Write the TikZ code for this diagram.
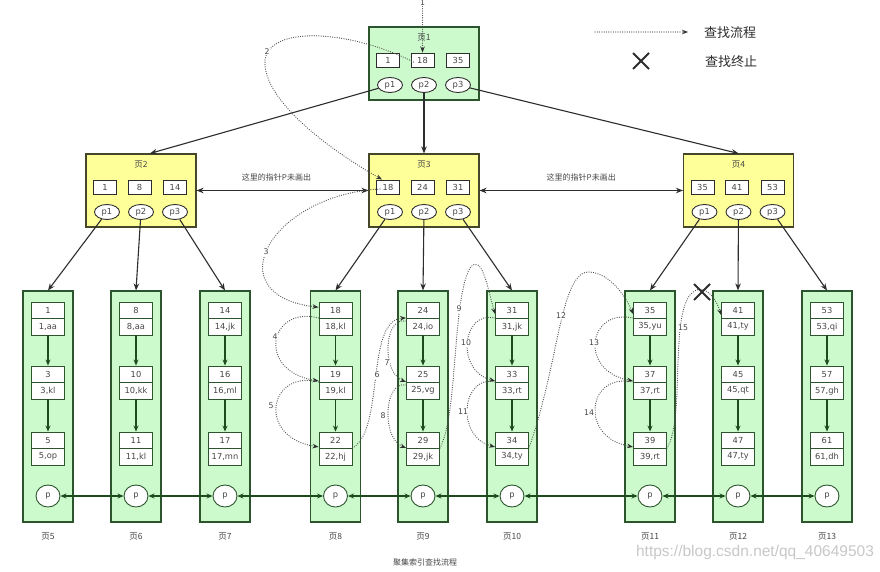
\documentclass[tikz,border=0pt]{standalone}
\usepackage{fontspec}
\setmainfont{DejaVu Sans}
\newfontfamily\cjk{Noto Sans CJK SC}
\newfontfamily\wmfont{Liberation Sans}
\usetikzlibrary{arrows.meta,calc,shapes.geometric}
\definecolor{gfill}{RGB}{204,250,204}
\definecolor{gdraw}{RGB}{45,85,45}
\definecolor{yfill}{RGB}{255,255,153}
\definecolor{ydraw}{RGB}{70,70,40}
\definecolor{garr}{RGB}{30,75,30}
\definecolor{dark}{RGB}{45,45,45}
\definecolor{txt}{RGB}{70,70,70}
\definecolor{flowc}{RGB}{80,80,80}
\definecolor{wmc}{RGB}{200,200,200}

\tikzset{
  leaf/.style={draw=gdraw, fill=gfill, line width=1.1pt, minimum width=50pt, minimum height=231pt, inner sep=0pt},
  ipgG/.style={draw=gdraw, fill=gfill, line width=1.1pt, minimum width=110pt, minimum height=73pt, inner sep=0pt},
  ipgY/.style={draw=ydraw, fill=yfill, line width=1.1pt, minimum width=110pt, minimum height=73pt, inner sep=0pt},
  cellk/.style={draw=gdraw, fill=white, line width=0.9pt, minimum width=33pt, minimum height=16.5pt, inner sep=0pt, font=\fontsize{8.3}{9}\selectfont, text=txt},
  ikey/.style={draw=dark, fill=white, line width=0.9pt, minimum width=23pt, minimum height=14pt, inner sep=0pt, font=\fontsize{8.3}{9}\selectfont, text=txt},
  iell/.style={ellipse, draw=dark, fill=white, line width=0.9pt, minimum width=25pt, minimum height=15pt, inner sep=0pt, font=\fontsize{8.3}{9}\selectfont, text=txt},
  pcirc/.style={ellipse, draw=gdraw, fill=white, line width=0.9pt, minimum width=24pt, minimum height=22pt, inner sep=0pt, font=\fontsize{8.3}{9}\selectfont, text=txt},
  pglbl/.style={font=\cjk\fontsize{8.5}{9}\selectfont, text=txt, inner sep=1pt},
  cjklbl/.style={font=\cjk\fontsize{8}{9}\selectfont, text=txt, inner sep=1pt},
  legtxt/.style={font=\cjk\fontsize{13}{14}\selectfont, text=dark, inner sep=1pt},
  garrow/.style={draw=garr, line width=1.1pt, -{Stealth[length=6pt,width=5pt]}},
  gdbl/.style={draw=garr, line width=1.1pt, {Stealth[length=6pt,width=5pt]}-{Stealth[length=6pt,width=5pt]}},
  bline/.style={draw=dark, line width=1.1pt, -{Stealth[length=7pt,width=5.5pt]}},
  bdbl/.style={draw=dark, line width=1.1pt, {Stealth[length=7pt,width=5.5pt]}-{Stealth[length=7pt,width=5.5pt]}},
  flow/.style={draw=flowc, line width=1.25pt, line cap=round, dash pattern=on 0pt off 2.3pt, -{Stealth[length=6pt,width=4.5pt,color=dark]}},
  flowlbl/.style={font=\fontsize{7.8}{8}\selectfont, text=txt, fill=white, inner sep=0.6pt},
  xmark/.style={draw=dark, line width=2pt},
}

\newcommand\leafpg[8]{%
  \node[leaf] (pg#1) at (#2,406.5) {};
  \node[cellk] (k#3) at (#2,310.25) {#3};
  \node[cellk] (v#3) at (#2,326.75) {#4};
  \node[cellk] (k#5) at (#2,374.25) {#5};
  \node[cellk] (v#5) at (#2,390.75) {#6};
  \node[cellk] (k#7) at (#2,440.25) {#7};
  \node[cellk] (v#7) at (#2,456.75) {#8};
  \draw[garrow] (v#3) -- (k#5);
  \draw[garrow] (v#5) -- (k#7);
  \node[pcirc] (p#1) at (#2,496) {p};
  \node[pglbl] (lb#1) at (#2,537) {页#1};
}

\newcommand\inpg[7]{%
  \node[#4] (pg#1) at (#2,#3) {};
  \node[pglbl] (lb#1) at (#2,#3-26) {页#1};
  \node[ikey] (n#1a) at (#2-36,#3-3.5) {#5};
  \node[ikey] (n#1b) at (#2-1.5,#3-3.5) {#6};
  \node[ikey] (n#1c) at (#2+34,#3-3.5) {#7};
  \node[iell] (q#1a) at (#2-34,#3+21.5) {p1};
  \node[iell] (q#1b) at (#2,#3+21.5) {p2};
  \node[iell] (q#1c) at (#2+34,#3+21.5) {p3};
}

\begin{document}
\begin{tikzpicture}[x=1pt,y=-1pt]
\fill[white] (0,0) rectangle (880,572);
\useasboundingbox (0,0) rectangle (880,572);

% internal pages
\inpg{1}{424}{63.5}{ipgG}{1}{18}{35}
\inpg{2}{141}{190.5}{ipgY}{1}{8}{14}
\inpg{3}{424}{190.5}{ipgY}{18}{24}{31}
\inpg{4}{738.5}{190.5}{ipgY}{35}{41}{53}

% leaf pages
\leafpg{5}{48}{1}{1,aa}{3}{3,kl}{5}{5,op}
\leafpg{6}{136}{8}{8,aa}{10}{10,kk}{11}{11,kl}
\leafpg{7}{225}{14}{14,jk}{16}{16,ml}{17}{17,mn}
\leafpg{8}{335.5}{18}{18,kl}{19}{19,kl}{22}{22,hj}
\leafpg{9}{423}{24}{24,io}{25}{25,vg}{29}{29,jk}
\leafpg{10}{512}{31}{31,jk}{33}{33,rt}{34}{34,ty}
\leafpg{11}{650}{35}{35,yu}{37}{37,rt}{39}{39,rt}
\leafpg{12}{738}{41}{41,ty}{45}{45,qt}{47}{47,ty}
\leafpg{13}{827}{53}{53,qi}{57}{57,gh}{61}{61,dh}

% tree connectors
\draw[bline] (q1a) -- ([xshift=9pt]pg2.north);
\draw[bline] (q1b) -- (pg3.north);
\draw[bline] (q1c) -- (pg4.north);
\draw[bline] (q2a) -- (pg5.north);
\draw[bline] (q2b) -- (pg6.north);
\draw[bline] (q2c) -- (pg7.north);
\draw[bline] (q3a) -- (pg8.north);
\draw[bline] (q3b) -- (pg9.north);
\draw[bline] (q3c) -- (pg10.north);
\draw[bline] (q4a) -- (pg11.north);
\draw[bline] (q4b) -- (pg12.north);
\draw[bline] (q4c) -- (pg13.north);

\draw[bdbl] (pg2.east) -- (pg3.west) node[cjklbl, midway, yshift=13pt, xshift=-6pt] (t23) {这里的指针P未画出};
\draw[bdbl] (pg3.east) -- (pg4.west) node[cjklbl, midway, yshift=13pt] (t34) {这里的指针P未画出};

% leaf chain
\draw[gdbl] (p5) -- (p6);
\draw[gdbl] (p6) -- (p7);
\draw[gdbl] (p7) -- (p8);
\draw[gdbl] (p8) -- (p9);
\draw[gdbl] (p9) -- (p10);
\draw[gdbl] (p10) -- (p11);
\draw[gdbl] (p11) -- (p12);
\draw[gdbl] (p12) -- (p13);

% search flow
\coordinate (s1) at ($(n1b.north)+(0,-60)$);
\draw[flow] (s1) -- (n1b.north);
\node[flowlbl] (f1) at (422.5,3) {1};

\draw[flow] ([xshift=3pt,yshift=-2pt]n1b.west) .. controls (350,30) and (270,25) .. (265,60) .. controls (262,100) and (330,150) .. ([xshift=6pt]n3a.north west);
\node[flowlbl] (f2) at (267,52) {2};

\draw[flow] ([xshift=4pt,yshift=-2pt]n3a.west) .. controls (270,195) and (215,295) .. ([yshift=3pt]k18.west);
\node[flowlbl] (f3) at (266,252) {3};

\draw[flow] (v18.north west) .. controls +(-49,-13) and +(-63,-10) .. ([yshift=2pt]k19.south west);
\node[flowlbl] (f4) at (275,337) {4};
\draw[flow] (v19.north west) .. controls +(-49,-13) and +(-63,-10) .. ([yshift=2pt]k22.south west);
\node[flowlbl] (f5) at (271,406) {5};

\draw[flow] (v22.north east) .. controls (385,430) and (365,320) .. ([yshift=1pt]k24.south west);
\node[flowlbl] (f6) at (377,375) {6};
\draw[flow] ([yshift=-3pt]v24.north west) .. controls +(-22,-5) and +(-25,-10) .. ([yshift=1pt]k25.south west);
\node[flowlbl] (f7) at (387,363) {7};
\draw[flow] ([yshift=-3pt]v25.north west) .. controls +(-22,-5) and +(-25,-10) .. ([yshift=1pt]k29.south west);
\node[flowlbl] (f8) at (383,416) {8};

\draw[flow] (v29.north east) .. controls (458,415) and (452,300) .. (470,268) .. controls (482,252) and (488,290) .. ([yshift=5pt]k31.south west);
\node[flowlbl] (f9) at (459,309) {9};
\draw[flow] (v31.north west) .. controls +(-33,-8) and +(-40,-10) .. ([yshift=2pt]k33.south west);
\node[flowlbl] (f10) at (466,343) {10};
\draw[flow] (v33.north west) .. controls +(-33,-8) and +(-40,-10) .. ([yshift=2pt]k34.south west);
\node[flowlbl] (f11) at (463,412) {11};

\draw[flow] (v34.north east) .. controls (560,360) and (560,270) .. (590,272) .. controls (610,274) and (625,295) .. ([yshift=5pt]k35.south west);
\node[flowlbl] (f12) at (561,316) {12};
\draw[flow] (v35.north west) .. controls +(-45,-10) and +(-55,-10) .. ([yshift=2pt]k37.south west);
\node[flowlbl] (f13) at (594,343) {13};
\draw[flow] (v37.north west) .. controls +(-45,-10) and +(-55,-10) .. ([yshift=2pt]k39.south west);
\node[flowlbl] (f14) at (589,413) {14};

\draw[flow] (v39.north east) .. controls (685,420) and (670,320) .. (690,295) .. controls (703,280) and (716,298) .. ([yshift=4pt]k41.south west);
\node[flowlbl] (f15) at (683,328) {15};

\coordinate (xm) at (702,292);
\draw[xmark] ($(xm)+(-8,-8)$) -- ($(xm)+(8,8)$);
\draw[xmark] ($(xm)+(-8,8)$) -- ($(xm)+(8,-8)$);

% legend
\coordinate (lgA) at (595,32);
\coordinate (lgB) at (688,32);
\draw[flow] (lgA) -- (lgB);
\node[legtxt] (lt1) at (730,33) {查找流程};
\coordinate (xl) at (641,61);
\draw[xmark] ($(xl)+(-8,-8)$) -- ($(xl)+(8,8)$);
\draw[xmark] ($(xl)+(-8,8)$) -- ($(xl)+(8,-8)$);
\node[legtxt] (lt2) at (731,62) {查找终止};

% titles
\node[cjklbl] (title) at (425,562) {聚集索引查找流程};
\node[font=\wmfont\fontsize{15.5}{16}\selectfont, text=wmc, inner sep=0pt] (wm) at (755,552) {https://blog.csdn.net/qq\_40649503};
\end{tikzpicture}
\end{document}
